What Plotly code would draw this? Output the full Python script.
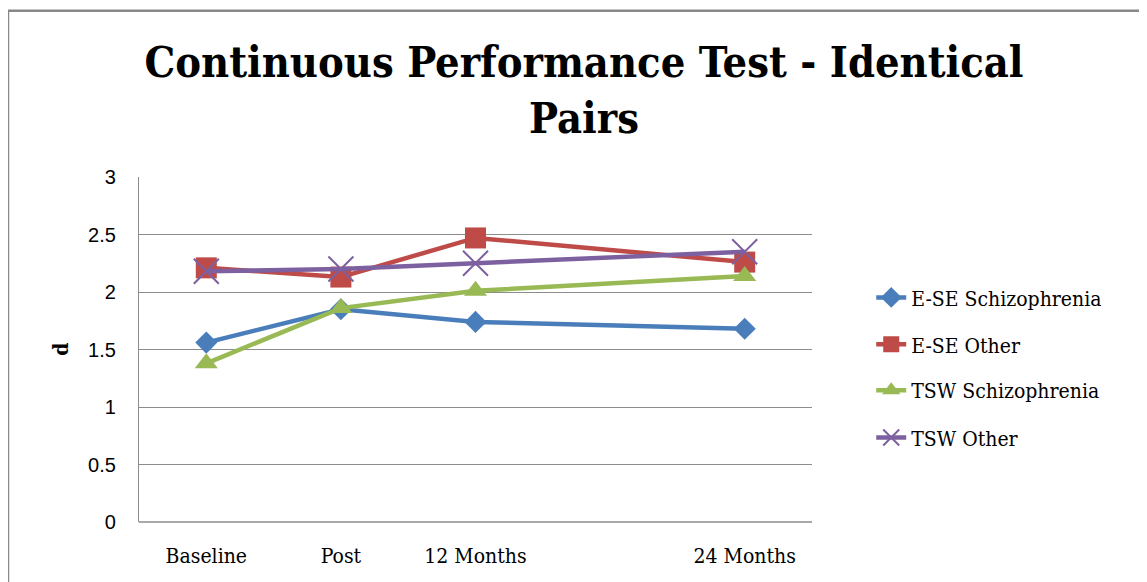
import plotly.graph_objects as go

timepoints = [0, 6, 12, 24]
tick_labels = ["Baseline", "Post", "12 Months", "24 Months"]

ese_schizophrenia = [1.56, 1.85, 1.74, 1.68]
ese_other = [2.21, 2.13, 2.47, 2.26]
tsw_schizophrenia = [1.38, 1.86, 2.01, 2.14]
tsw_other = [2.18, 2.20, 2.25, 2.35]

series_names = ["E-SE Schizophrenia", "E-SE Other", "TSW Schizophrenia", "TSW Other"]
series_values = [ese_schizophrenia, ese_other, tsw_schizophrenia, tsw_other]
colors = ["#4A7EBB", "#BE4B48", "#98B954", "#7D60A0"]
symbols = ["diamond", "square", "triangle-up", "x-thin"]
sizes = [17, 21, 20, 25]
legend_ys = [0.650, 0.514, 0.381, 0.244]

SERIF = "DejaVu Serif Condensed, Liberation Serif, serif"
SANS = "Liberation Sans, Arial, sans-serif"

# the page body adds an 8px offset; compensate in margins
OFF = 8
L, T, PW, PH = 139 - OFF, 177 - OFF, 673, 345
W, H = 1147, 582

fig = go.Figure()
for i, (name, vals) in enumerate(zip(series_names, series_values)):
    marker = dict(symbol=symbols[i], size=sizes[i], color=colors[i])
    if symbols[i] == "x-thin":
        marker["line"] = dict(color=colors[i], width=2)
    else:
        marker["line"] = dict(width=0)
    fig.add_trace(go.Scatter(
        x=timepoints, y=vals, name=name, mode="lines+markers",
        line=dict(color=colors[i], width=4.5),
        marker=marker,
        legend="legend" if i == 0 else f"legend{i+1}",
    ))

legend_common = dict(
    xanchor="left", yanchor="middle", x=1.088,
    font=dict(family=SERIF, size=21, color="#000000"),
    bgcolor="rgba(0,0,0,0)", borderwidth=0,
)
layout_legends = {}
for i, ly in enumerate(legend_ys):
    key = "legend" if i == 0 else f"legend{i+1}"
    layout_legends[key] = dict(legend_common, y=ly)

fig.update_layout(
    width=W, height=H,
    margin=dict(l=L, r=W - L - PW, t=T, b=H - T - PH),
    paper_bgcolor="white", plot_bgcolor="white",
    showlegend=True,
    title=dict(
        text="<b>Continuous Performance Test - Identical<br>Pairs</b>",
        x=(584 - OFF) / W, xanchor="center", y=1 - 69 / H, yanchor="middle",
        font=dict(family=SERIF, size=43, color="#000000"),
    ),
    xaxis=dict(
        range=[-3, 27], tickmode="array", tickvals=timepoints, ticktext=tick_labels,
        showgrid=False, zeroline=False, showline=False,
        ticks="", ticklabelstandoff=19,
        tickfont=dict(family=SERIF, size=21, color="#000000"),
    ),
    yaxis=dict(
        range=[0, 3], dtick=0.5, tickformat="~g",
        showgrid=True, gridcolor="#8C8C8C", gridwidth=1.3,
        zeroline=False, showline=True, linecolor="#8C8C8C", linewidth=1.3,
        ticks="", ticklabelstandoff=18,
        tickfont=dict(family=SANS, size=20, color="#000000"),
    ),
    annotations=[dict(
        text="<b>d</b>", xref="paper", yref="paper", x=-0.117, y=0.5,
        textangle=-90, showarrow=False, xanchor="center", yanchor="middle",
        font=dict(family=SERIF, size=21, color="#000000"),
    )],
    shapes=[
        dict(type="line", xref="paper", yref="paper", x0=0, x1=1, y0=0, y1=0,
             line=dict(color="#8C8C8C", width=1.3), layer="below"),
        dict(type="rect", xref="paper", yref="paper", x0=-0.1947, x1=2, y0=-0.5, y1=1.482,
             line=dict(color="#888888", width=2.5), fillcolor="rgba(0,0,0,0)"),
    ],
    **layout_legends,
)

fig.write_html("out.html")
